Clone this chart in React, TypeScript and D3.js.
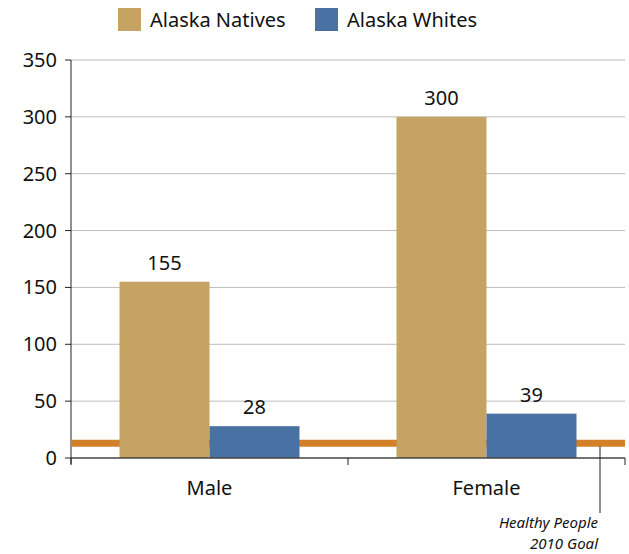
import React from "react";
import { scaleBand, scaleLinear } from "d3";

const categories = ["Male", "Female"];
const seriesNames = ["Alaska Natives", "Alaska Whites"];
const nativesValues = [155, 300];
const whitesValues = [28, 39];
const yTicks = [0, 50, 100, 150, 200, 250, 300, 350];
const goalValue = 13;

const colors = ["#C5A362", "#4872A3"];
const goalColor = "#D4802B";

export default function App() {
    const width = 629;
    const height = 554;
    const left = 71;
    const right = 625;
    const top = 60;
    const bottom = 458;

    const x = scaleBand().domain(categories).range([left, right]);
    const inner = scaleBand().domain(seriesNames).range([0, 180]);
    const y = scaleLinear().domain([0, 350]).range([bottom, top]);

    const series = [nativesValues, whitesValues];
    const font = "'Noto Sans', 'Open Sans', sans-serif";

    return (
        <svg width={width} height={height} style={{ position: "absolute", left: 0, top: 0 }} fontFamily={font}>
            {/* legend */}
            {seriesNames.map((name, i) => (
                <g key={name} transform={`translate(${118 + i * 197}, 8)`}>
                    <rect width={23} height={23} fill={colors[i]} />
                    <text x={32} y={19} fontSize={20} fill="#111">
                        {name}
                    </text>
                </g>
            ))}

            {/* grid + y axis */}
            {yTicks.map((t) => (
                <g key={t}>
                    {t > 0 && <line x1={left} x2={right} y1={y(t)} y2={y(t)} stroke="#BDBDBD" strokeWidth={1} />}
                    <line x1={left - 6} x2={left} y1={y(t)} y2={y(t)} stroke="#222" />
                    <text x={left - 14} y={y(t)} dy="0.35em" textAnchor="end" fontSize={20} fill="#111">
                        {t}
                    </text>
                </g>
            ))}
            <line x1={left} x2={left} y1={top} y2={bottom + 6} stroke="#222" />

            {/* goal line */}
            <line x1={left} x2={right} y1={y(goalValue)} y2={y(goalValue)} stroke={goalColor} strokeWidth={7} />

            {/* bars */}
            {categories.map((c, ci) => {
                const x0 = (x(c) as number) + x.bandwidth() / 2 - 90;
                return series.map((vals, si) => {
                    const bx = x0 + (inner(seriesNames[si]) as number);
                    const v = vals[ci];
                    return (
                        <g key={c + si}>
                            <rect x={bx} y={y(v)} width={inner.bandwidth()} height={bottom - y(v)} fill={colors[si]} />
                            <text x={bx + inner.bandwidth() / 2} y={y(v) - 12} textAnchor="middle" fontSize={20} fill="#111">
                                {v}
                            </text>
                        </g>
                    );
                });
            })}

            {/* x axis */}
            <line x1={left} x2={right} y1={bottom} y2={bottom} stroke="#444" strokeWidth={1.5} />
            {[left, ...categories.map((c) => (x(c) as number) + x.bandwidth())].map((tx) => (
                <line key={tx} x1={tx} x2={tx} y1={bottom} y2={bottom + 7} stroke="#222" />
            ))}
            {categories.map((c) => (
                <text key={c} x={(x(c) as number) + x.bandwidth() / 2} y={495} textAnchor="middle" fontSize={20} fill="#111">
                    {c}
                </text>
            ))}

            {/* goal callout */}
            <line x1={600} x2={600} y1={y(goalValue) + 3} y2={513} stroke="#222" />
            <text x={598} y={528} textAnchor="end" fontSize={15} fontStyle="italic" fill="#111">
                Healthy People
            </text>
            <text x={598} y={549} textAnchor="end" fontSize={15} fontStyle="italic" fill="#111">
                2010 Goal
            </text>
        </svg>
    );
}
